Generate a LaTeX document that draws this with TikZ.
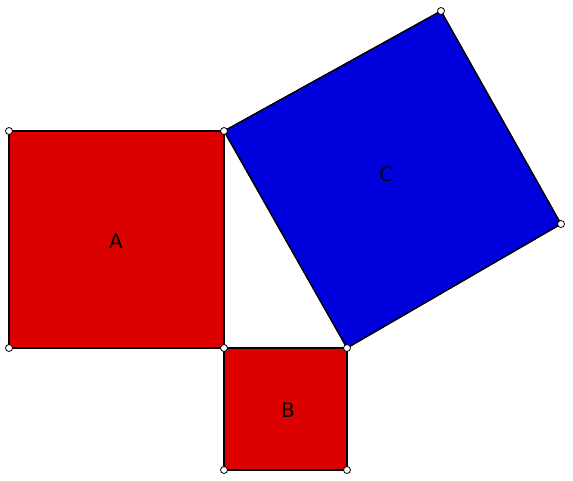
\documentclass[tikz,border=0pt]{standalone}
\usepackage{fontspec}
\setmainfont{DejaVu Sans}
\begin{document}
\begin{tikzpicture}[x=1pt,y=-1pt,
  sq/.style={draw=black,line width=1.2pt},
  pt/.style={circle,draw=black,fill=white,inner sep=0pt,minimum size=7pt,line width=0.8pt},
  lab/.style={font=\fontsize{20}{20}\selectfont}]
\useasboundingbox (0,0) rectangle (573,480);
\coordinate (a1) at (9,131); \coordinate (a2) at (224,131);
\coordinate (a3) at (224,348); \coordinate (a4) at (9,348);
\coordinate (b2) at (347,348); \coordinate (b3) at (347,470); \coordinate (b4) at (224,470);
\coordinate (c2) at (441,11); \coordinate (c3) at (561,224);
\fill[sq,fill={rgb,255:red,221;green,0;blue,0}] (a1)--(a2)--(a3)--(a4)--cycle;
\fill[sq,fill={rgb,255:red,221;green,0;blue,0}] (a3)--(b2)--(b3)--(b4)--cycle;
\fill[sq,fill={rgb,255:red,0;green,0;blue,221}] (a2)--(c2)--(c3)--(b2)--cycle;
\draw[sq] (a1)--(a2)--(a3)--(a4)--cycle;
\draw[sq] (a3)--(b2)--(b3)--(b4)--cycle;
\draw[sq] (a2)--(c2)--(c3)--(b2)--cycle;
\foreach \p in {a1,a2,a3,a4,b2,b3,b4,c2,c3} \node[pt] at (\p) {};
\node[lab] (A) at (116,241) {A};
\node[lab] (B) at (288,410) {B};
\node[lab] (C) at (386,174) {C};
\end{tikzpicture}
\end{document}
